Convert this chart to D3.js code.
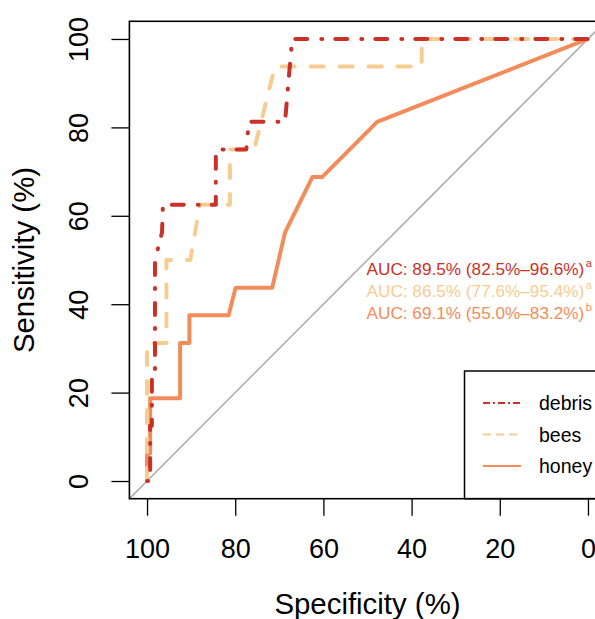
<!DOCTYPE html>
<html>
<head>
<meta charset="utf-8">
<script src="https://cdn.jsdelivr.net/npm/d3@7"></script>
<style>
    body { margin: 0; background: #fff; }
    text { font-family: "Liberation Sans", Arial, Helvetica, sans-serif; }
</style>
</head>
<body>
<div id="roc-view"></div>
<script>
// ROC curves, one per sample type
var groups = ["debris", "bees", "honey"];
var colors = ["#cc3127", "#f8cc90", "#f38c5a"];
var aucText = ["AUC: 89.5% (82.5%\u201396.6%)", "AUC: 86.5% (77.6%\u201395.4%)", "AUC: 69.1% (55.0%\u201383.2%)"];
var aucSup = ["a", "a", "b"];

// specificity / sensitivity (%)
var debrisSpec = [100, 99.3, 99.3, 98.9, 98.9, 98.2, 98.2, 96.6, 96.4, 84.4, 84.4, 77.5, 76.9, 68.7, 67.1, 0];
var debrisSens = [0, 0, 12.5, 12.5, 25, 25, 50, 56.25, 62.5, 62.5, 75, 75, 81.25, 81.25, 100, 100];
var beesSpec = [100, 100, 95.6, 95.6, 90.2, 88.0, 81.2, 81.2, 75.7, 71.0, 37.7, 37.7, 0];
var beesSens = [0, 31.25, 31.25, 50, 50, 62.5, 62.5, 75, 75, 93.75, 93.75, 100, 100];
var honeySpec = [100, 100, 99.3, 99.3, 92.5, 92.5, 90.4, 90.4, 81.5, 79.9, 71.6, 68.7, 62.5, 60.3, 47.8, 0];
var honeySens = [0, 6.25, 6.25, 18.75, 18.75, 31.25, 31.25, 37.5, 37.5, 43.75, 43.75, 56.25, 68.75, 68.75, 81.25, 100];

var xTicks = [100, 80, 60, 40, 20, 0];
var yTicks = [0, 20, 40, 60, 80, 100];

class RocChart {
    constructor() {
        this.width = 595;
        this.height = 619;
        // plot region (R style: data range padded by 4%)
        this.left = 129.4;
        this.right = 605.6;
        this.top = 21.3;
        this.bottom = 498.7;

        this.svg = d3.select("#roc-view")
            .append("svg")
            .attr("width", this.width)
            .attr("height", this.height);

        this.x = d3.scaleLinear().domain([104, -4]).range([this.left, this.right]);
        this.y = d3.scaleLinear().domain([-4, 104]).range([this.bottom, this.top]);

        this.svg.append("clipPath").attr("id", "plot-clip")
            .append("rect")
            .attr("x", this.left).attr("y", this.top)
            .attr("width", this.right - this.left)
            .attr("height", this.bottom - this.top);
    }

    drawAxes() {
        var xAxis = this.svg.append("g")
            .attr("transform", "translate(0," + this.bottom + ")")
            .call(d3.axisBottom(this.x).tickValues(xTicks).tickSize(17).tickFormat(d3.format("d")));
        xAxis.select(".domain").remove();
        xAxis.selectAll("line").attr("stroke", "#000").attr("stroke-width", 1.3);
        xAxis.selectAll("text")
            .attr("y", 59.8).attr("dy", null)
            .attr("fill", "#000")
            .style("font-size", "27px");

        var yAxis = this.svg.append("g")
            .attr("transform", "translate(" + this.left + ",0)")
            .call(d3.axisLeft(this.y).tickValues(yTicks).tickSize(18).tickFormat(d3.format("d")));
        yAxis.select(".domain").remove();
        yAxis.selectAll("line").attr("stroke", "#000").attr("stroke-width", 1.3);
        yAxis.selectAll("text")
            .attr("transform", "rotate(-90)")
            .attr("x", 0).attr("y", -41).attr("dy", null)
            .attr("text-anchor", "middle")
            .attr("fill", "#000")
            .style("font-size", "27px");

        // axis titles are a little bigger than the tick labels
        this.svg.append("text")
            .attr("x", (this.left + this.right) / 2)
            .attr("y", 614)
            .attr("text-anchor", "middle")
            .style("font-size", "29.4px")
            .text("Specificity (%)");

        this.svg.append("text")
            .attr("transform", "translate(34," + (this.top + this.bottom) / 2 + ") rotate(-90)")
            .attr("text-anchor", "middle")
            .style("font-size", "29.4px")
            .text("Sensitivity (%)");
    }

    drawCurves() {
        var self = this;
        var plot = this.svg.append("g").attr("clip-path", "url(#plot-clip)");

        // chance line
        plot.append("line")
            .attr("x1", this.x(104)).attr("y1", this.y(-4))
            .attr("x2", this.x(-4)).attr("y2", this.y(104))
            .attr("stroke", "#aaaaaa")
            .attr("stroke-width", 1.5);

        var line = d3.line()
            .x(function(d) { return self.x(d[0]); })
            .y(function(d) { return self.y(d[1]); });

        var curves = [
            { spec: honeySpec, sens: honeySens, color: colors[2], dash: null },
            { spec: beesSpec, sens: beesSens, color: colors[1], dash: "13,16" },
            { spec: debrisSpec, sens: debrisSens, color: colors[0], dash: "1,13,12,14" }
        ];
        curves.forEach(function(c) {
            var pts = c.spec.map(function(s, i) { return [s, c.sens[i]]; });
            plot.append("path")
                .attr("d", line(pts))
                .attr("fill", "none")
                .attr("stroke", c.color)
                .attr("stroke-width", 4)
                .attr("stroke-linecap", "round")
                .attr("stroke-linejoin", "round")
                .attr("stroke-dasharray", c.dash);
        });

        // AUC labels
        var baselines = [275, 297, 319];
        for (var i = 0; i < aucText.length; i++) {
            var t = this.svg.append("text")
                .attr("x", 366.5)
                .attr("y", baselines[i])
                .attr("fill", colors[i])
                .style("font-size", "17.2px");
            t.append("tspan").text(aucText[i]);
            t.append("tspan")
                .attr("dx", 1.5).attr("dy", -8)
                .style("font-size", "11px")
                .text(aucSup[i]);
        }
    }

    drawLegend() {
        var box = this.svg.append("g");
        box.append("rect")
            .attr("x", 464.5).attr("y", 371)
            .attr("width", 160).attr("height", this.bottom - 371)
            .attr("fill", "#fff")
            .attr("stroke", "#000")
            .attr("stroke-width", 1.5);

        var dashes = ["7,3,2,3", "8,5", null];
        var rows = box.selectAll("g.item")
            .data(groups)
            .enter()
            .append("g")
            .attr("class", "item")
            .attr("transform", function(d, i) { return "translate(0," + (403 + i * 31.5) + ")"; });

        rows.append("line")
            .attr("x1", 483).attr("x2", 521)
            .attr("stroke", function(d, i) { return colors[i]; })
            .attr("stroke-width", 2)
            .attr("stroke-dasharray", function(d, i) { return dashes[i]; });

        rows.append("text")
            .attr("x", 539)
            .attr("y", 7)
            .style("font-size", "19.5px")
            .text(function(d) { return d; });
    }

    drawFrame() {
        this.svg.append("rect")
            .attr("x", this.left).attr("y", this.top)
            .attr("width", this.right - this.left)
            .attr("height", this.bottom - this.top)
            .attr("fill", "none")
            .attr("stroke", "#000")
            .attr("stroke-width", 1.6);
    }
}

var chart = new RocChart();
chart.drawAxes();
chart.drawCurves();
chart.drawLegend();
chart.drawFrame();
</script>
</body>
</html>
